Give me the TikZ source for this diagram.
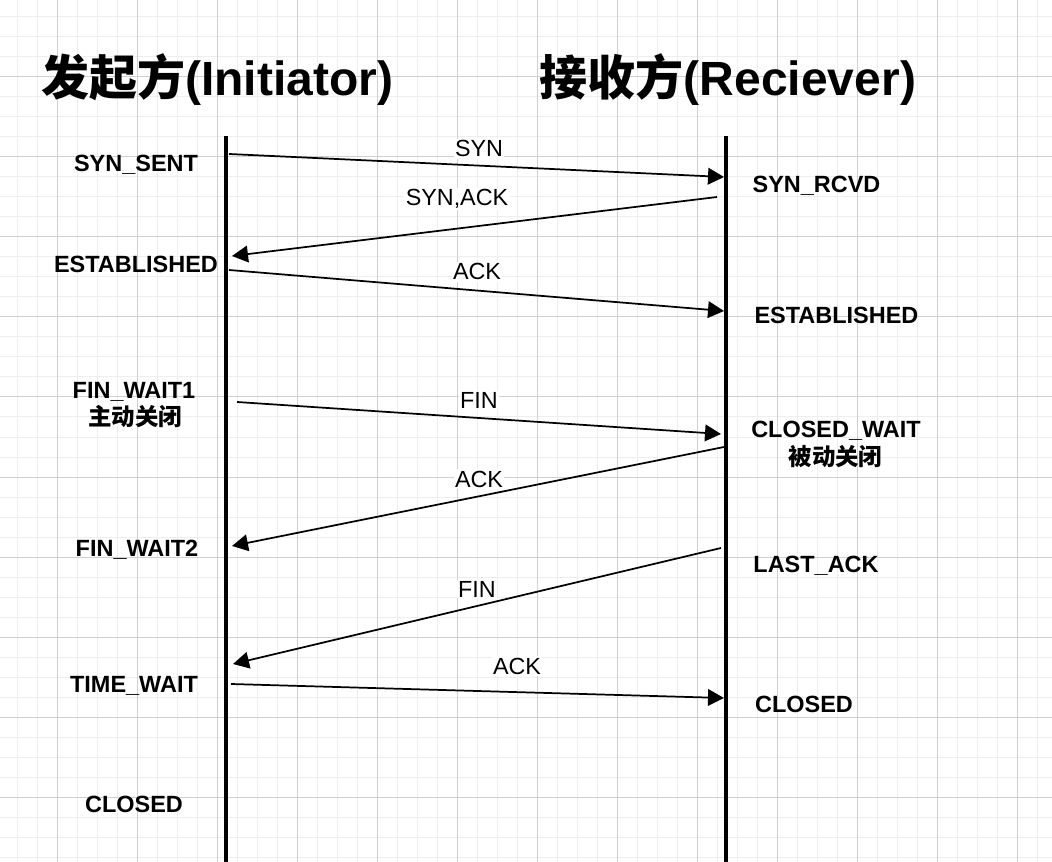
\documentclass[tikz,border=0pt]{standalone}
\usepackage{fontspec}
\setmainfont{Liberation Sans}
\newfontfamily\cjk{Noto Sans CJK SC}
\usetikzlibrary{arrows.meta}
\definecolor{gridminorc}{HTML}{EEEEEE}
\definecolor{gridmajorc}{HTML}{D0D0D0}
\tikzset{
  gridminor/.style={draw=gridminorc, line width=0.75pt},
  gridmajor/.style={draw=gridmajorc, line width=0.75pt},
  lifeline/.style={line width=3pt},
  msg/.style={line width=1.3pt, -{Triangle[length=12pt,width=12.5pt]}},
  msglabel/.style={fill=white, inner sep=1pt, anchor=base, font=\fontsize{17.5}{20}\selectfont},
  state/.style={anchor=base, inner sep=0pt, font=\fontsize{17.6}{20}\selectfont\bfseries},
  note/.style={anchor=base, inner sep=0pt, font=\fontsize{17.6}{20}\selectfont\cjk\bfseries},
  title/.style={anchor=base, inner sep=0pt, font=\fontsize{36}{40}\selectfont\bfseries},
}
\begin{document}
\begin{tikzpicture}[x=0.75pt,y=-0.75pt]
\useasboundingbox (0,0) rectangle (1052,862);
\fill[white] (0,0) rectangle (1052,862);
% grid
\foreach \i in {17,37,...,1037} {\draw[gridminor] (\i,0) -- (\i,862);}
\foreach \j in {17,37,...,857} {\draw[gridminor] (0,\j) -- (1052,\j);}
\foreach \i in {57,137,...,1017} {\draw[gridmajor] (\i,0) -- (\i,862);}
\foreach \j in {77,157,...,797} {\draw[gridmajor] (0,\j) -- (1052,\j);}

% titles
\node[title] (tleft) at (217,96) {{\cjk\bfseries 发起方}(Initiator)};
\node[title] (tright) at (728,96) {{\cjk\bfseries 接收方}(Reciever)};

% lifelines
\coordinate (Ltop) at (226,136);
\coordinate (Lbot) at (226,862);
\coordinate (Rtop) at (726,136);
\coordinate (Rbot) at (726,862);
\draw[lifeline] (Ltop) -- (Lbot);
\draw[lifeline] (Rtop) -- (Rbot);

% message endpoints
\coordinate (m1s) at (229,154);  \coordinate (m1e) at (724,177);
\coordinate (m2s) at (717,197);  \coordinate (m2e) at (232,256);
\coordinate (m3s) at (229,270);  \coordinate (m3e) at (724,311);
\coordinate (m4s) at (237,402);  \coordinate (m4e) at (721,434);
\coordinate (m5s) at (724,447);  \coordinate (m5e) at (232,546);
\coordinate (m6s) at (721,548);  \coordinate (m6e) at (233,664);
\coordinate (m7s) at (231,684);  \coordinate (m7e) at (724,698);

\draw[msg] (m1s) -- (m1e);
\draw[msg] (m2s) -- (m2e);
\draw[msg] (m3s) -- (m3e);
\draw[msg] (m4s) -- (m4e);
\draw[msg] (m5s) -- (m5e);
\draw[msg] (m6s) -- (m6e);
\draw[msg] (m7s) -- (m7e);

% message labels
\node[msglabel] (l1) at (479,157) {SYN};
\node[msglabel] (l2) at (457,206) {SYN,ACK};
\node[msglabel] (l3) at (477,280) {ACK};
\node[msglabel] (l4) at (479,408) {FIN};
\node[msglabel] (l5) at (479,487) {ACK};
\node[msglabel] (l6) at (477,597) {FIN};
\node[msglabel] (l7) at (517,674) {ACK};

% left states
\node[state] (s1) at (136,172) {SYN\_SENT};
\node[state] (s2) at (136,272.5) {ESTABLISHED};
\node[state] (s3) at (134,398) {FIN\_WAIT1};
\node[note]  (s3n) at (135,425.5) {主动关闭};
\node[state] (s4) at (137,556.5) {FIN\_WAIT2};
\node[state] (s5) at (134,692) {TIME\_WAIT};
\node[state] (s6) at (134,812) {CLOSED};

% right states
\node[state] (r1) at (816.5,192.5) {SYN\_RCVD};
\node[state] (r2) at (836.5,324) {ESTABLISHED};
\node[state] (r3) at (836,437) {CLOSED\_WAIT};
\node[note]  (r3n) at (835.5,465) {被动关闭};
\node[state] (r4) at (816,572.5) {LAST\_ACK};
\node[state] (r5) at (804,712.5) {CLOSED};
\end{tikzpicture}
\end{document}
